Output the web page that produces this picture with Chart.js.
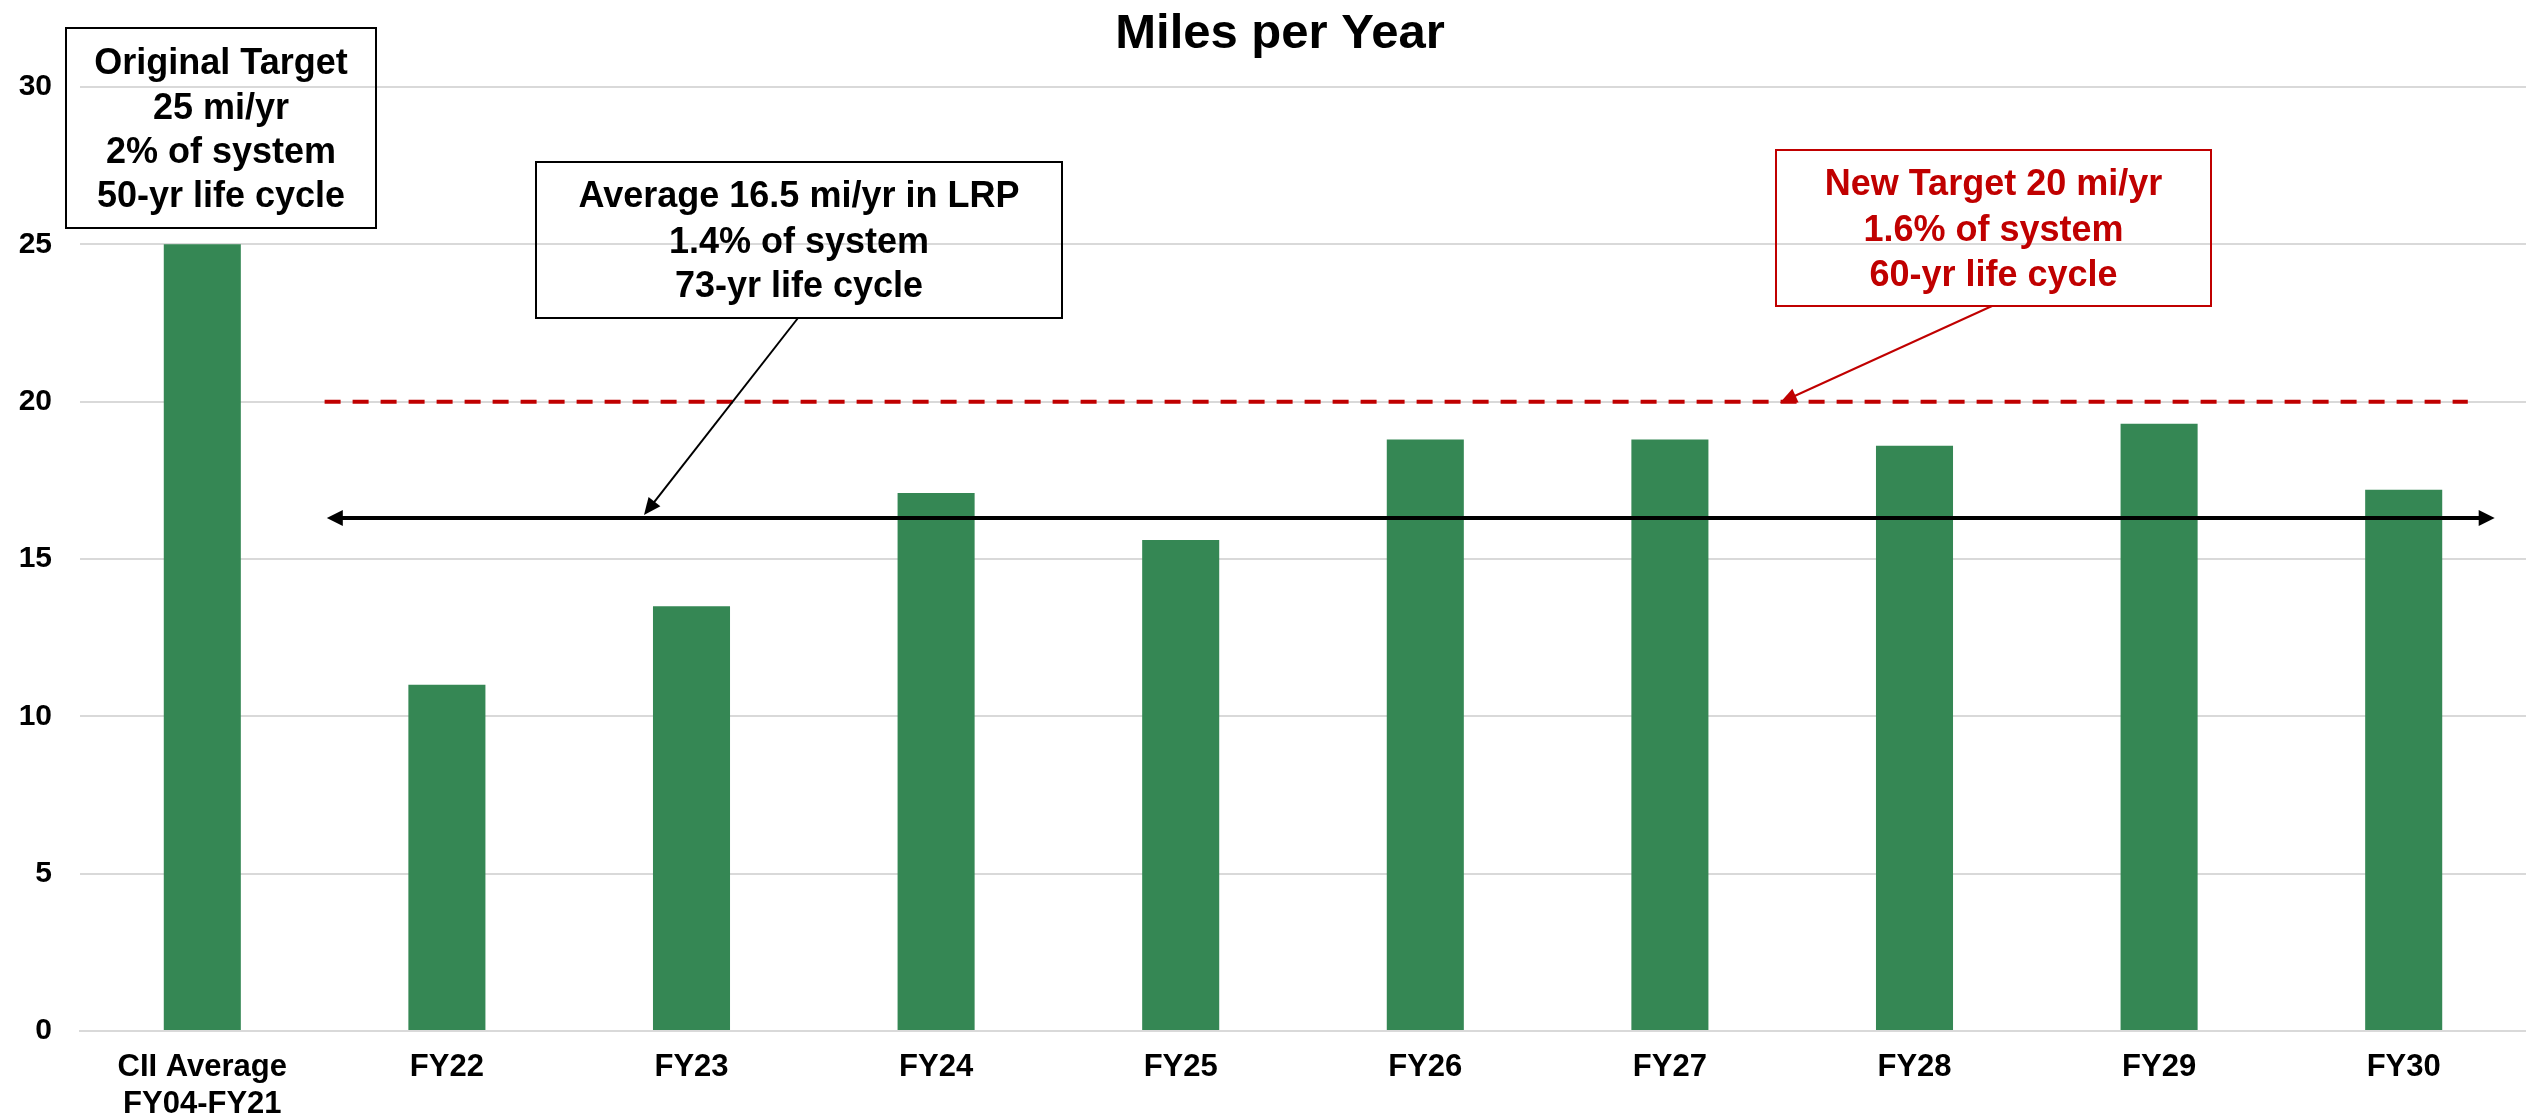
<!DOCTYPE html>
<html><head><meta charset="utf-8">
<script src="https://cdn.jsdelivr.net/npm/chart.js@4"></script>
<style>html,body{margin:0;padding:0;background:#fff}#wrap{width:2526px;height:1120px}</style>
</head><body><div id="wrap"><canvas id="c" width="2526" height="1120"></canvas></div>
<script>
const categories = [['CII Average','FY04-FY21'],'FY22','FY23','FY24','FY25','FY26','FY27','FY28','FY29','FY30'];
const milesPerYear = [25, 11, 13.5, 17.1, 15.6, 18.8, 18.8, 18.6, 19.3, 17.2];
const newTargetValue = 20;
const lrpAverageValue = 16.3;
const yMin = 0, yMax = 30, yStep = 5;
const chartTitle = 'Miles per Year';
const originalTargetText = ['Original Target','25 mi/yr','2% of system','50-yr life cycle'];
const lrpText = ['Average 16.5 mi/yr in LRP','1.4% of system','73-yr life cycle'];
const newTargetText = ['New Target 20 mi/yr','1.6% of system','60-yr life cycle'];

const FONT = "'Liberation Sans', Arial, sans-serif";
const RED = '#C00000';
const GREEN = '#358754';

function arrowHead(ctx, x1, y1, x2, y2, len, half) {
  const a = Math.atan2(y2 - y1, x2 - x1);
  const bx = x2 - len * Math.cos(a), by = y2 - len * Math.sin(a);
  ctx.beginPath();
  ctx.moveTo(x2, y2);
  ctx.lineTo(bx + half * Math.sin(a), by - half * Math.cos(a));
  ctx.lineTo(bx - half * Math.sin(a), by + half * Math.cos(a));
  ctx.closePath();
  ctx.fill();
}
function pointer(ctx, x1, y1, x2, y2, color, lw, len, half) {
  const a = Math.atan2(y2 - y1, x2 - x1);
  ctx.strokeStyle = color; ctx.fillStyle = color; ctx.lineWidth = lw;
  ctx.beginPath();
  ctx.moveTo(x1, y1);
  ctx.lineTo(x2 - len * 0.8 * Math.cos(a), y2 - len * 0.8 * Math.sin(a));
  ctx.stroke();
  arrowHead(ctx, x1, y1, x2, y2, len, half);
}
function textBox(ctx, x0, y0, x1, y1, color, lines, baselines) {
  ctx.strokeStyle = color; ctx.lineWidth = 2;
  ctx.strokeRect(x0, y0, x1 - x0, y1 - y0);
  ctx.fillStyle = color; ctx.font = 'bold 36px ' + FONT;
  ctx.textAlign = 'center'; ctx.textBaseline = 'alphabetic';
  lines.forEach((t, i) => ctx.fillText(t, (x0 + x1) / 2, baselines[i]));
}

const annotations = {
  id: 'annotations',
  afterDatasetsDraw(chart) {
    const ctx = chart.ctx;
    const xs = chart.scales.x, ys = chart.scales.y;
    const cw = xs.getPixelForValue(1) - xs.getPixelForValue(0);
    ctx.save();
    // title
    ctx.fillStyle = '#000'; ctx.font = 'bold 49px ' + FONT;
    ctx.textAlign = 'center'; ctx.textBaseline = 'alphabetic';
    ctx.fillText(chartTitle, 1280, 48);

    // new target dashed line
    const yT = ys.getPixelForValue(newTargetValue);
    ctx.setLineDash([16, 12]);
    ctx.strokeStyle = RED; ctx.lineWidth = 4;
    ctx.beginPath();
    ctx.moveTo(xs.getPixelForValue(1) - cw / 2, yT);
    ctx.lineTo(xs.getPixelForValue(categories.length - 1) + 0.262 * cw, yT);
    ctx.stroke();
    ctx.setLineDash([]);

    // LRP average double arrow
    const yA = ys.getPixelForValue(lrpAverageValue);
    const xl = xs.getPixelForValue(1) - 0.491 * cw;
    const xr = xs.getPixelForValue(categories.length - 1) + 0.372 * cw;
    ctx.strokeStyle = '#000'; ctx.fillStyle = '#000'; ctx.lineWidth = 4;
    ctx.beginPath();
    ctx.moveTo(xl + 12, yA); ctx.lineTo(xr - 12, yA);
    ctx.stroke();
    arrowHead(ctx, xr, yA, xl, yA, 16, 8);
    arrowHead(ctx, xl, yA, xr, yA, 16, 8);

    // boxes
    textBox(ctx, 66, 28, 376, 228, '#000', originalTargetText, [74, 119, 163, 207]);
    textBox(ctx, 536, 162, 1062, 318, '#000', lrpText, [207, 253, 297]);
    pointer(ctx, 798, 318, 644, yA - 3, '#000', 2, 17, 7.5);
    textBox(ctx, 1776, 150, 2211, 306, RED, newTargetText, [195, 241, 286]);
    pointer(ctx, 1992, 306, 1780, yT + 1, RED, 2, 17, 7.5);
    ctx.restore();
  }
};

new Chart(document.getElementById('c'), {
  type: 'bar',
  data: {
    labels: categories,
    datasets: [{
      data: milesPerYear,
      backgroundColor: GREEN,
      borderWidth: 0,
      barPercentage: 0.315,
      categoryPercentage: 1.0
    }]
  },
  options: {
    responsive: false,
    animation: false,
    devicePixelRatio: 1,
    layout: { padding: { top: 87, left: 0, right: 0, bottom: 0 } },
    plugins: { legend: { display: false }, title: { display: false }, tooltip: { enabled: false } },
    scales: {
      x: {
        grid: { display: false, drawTicks: false },
        border: { display: true, color: '#D9D9D9', width: 2 },
        ticks: {
          color: '#000', padding: 18, maxRotation: 0, autoSkip: false,
          font: { family: FONT, size: 31, weight: 'bold', lineHeight: 1.2 }
        },
        afterFit(s) { s.height = 89; }
      },
      y: {
        min: yMin, max: yMax,
        grid: { color: '#D9D9D9', lineWidth: 2, drawTicks: false },
        border: { display: false },
        ticks: {
          stepSize: yStep, color: '#000', padding: 28,
          font: { family: FONT, size: 30, weight: 'bold' }
        },
        afterFit(s) { s.width = 80; }
      }
    }
  },
  plugins: [annotations]
});
</script>
</body></html>
